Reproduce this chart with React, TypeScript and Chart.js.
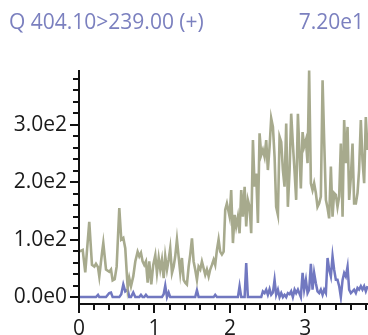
import React, { useEffect, useRef } from "react";
import { Chart, registerables } from "chart.js";

Chart.register(...registerables);

const titleLeft = "Q 404.10>239.00 (+)";
const titleRight = "7.20e1";

const times = [
  0.000, 0.049, 0.083, 0.136, 0.172, 0.203, 0.225, 0.252, 0.269, 0.305, 0.322, 0.358, 0.401, 0.424, 0.446, 0.473, 0.499, 0.534, 0.560, 0.587, 0.613, 0.645, 0.666, 0.689, 0.719, 0.746, 0.777, 0.799, 0.821, 0.843, 0.865, 0.887, 0.910, 0.931, 0.958, 0.984, 1.011,
  1.033, 1.056, 1.077, 1.099, 1.122, 1.143, 1.166, 1.188, 1.209, 1.232, 1.254, 1.275, 1.298, 1.320, 1.342, 1.364, 1.387, 1.408, 1.430, 1.453, 1.474, 1.497, 1.519, 1.540, 1.563, 1.585, 1.607, 1.629, 1.652, 1.673, 1.695, 1.718, 1.739, 1.762, 1.784, 1.805, 1.828, 1.850, 1.871, 1.894, 1.917, 1.938, 1.960,
  1.996, 2.017, 2.040, 2.062, 2.083, 2.106, 2.128, 2.150, 2.172, 2.195, 2.216, 2.238, 2.261, 2.282, 2.305, 2.327, 2.348, 2.371, 2.393, 2.415, 2.437, 2.459, 2.481, 2.503, 2.526, 2.547, 2.570, 2.592, 2.613, 2.636, 2.658, 2.680, 2.702, 2.724, 2.746, 2.768, 2.791, 2.812, 2.834, 2.857, 2.878, 2.901,
  2.940, 2.963, 2.984, 3.007, 3.029, 3.050, 3.073, 3.095, 3.116, 3.139, 3.161, 3.183, 3.205, 3.228, 3.249, 3.272, 3.294, 3.315, 3.338, 3.360, 3.381, 3.404, 3.426, 3.448, 3.470, 3.493, 3.514, 3.536, 3.559, 3.580, 3.603, 3.625, 3.646, 3.669, 3.691, 3.712, 3.735, 3.757, 3.779, 3.801, 3.824,
];

const oliveSeries = [
  79, 82, 43, 131, 56, 53, 58, 52, 36, 77, 94, 48, 44, 48, 29, 31, 53, 155, 100, 103, 85, 16, 33, 19, 36, 62, 79, 71, 77, 62, 56, 62, 25, 62, 22, 56, 73,
  42, 68, 48, 65, 33, 71, 48, 65, 85, 42, 53, 71, 100, 71, 42, 68, 30, 25, 22, 53, 74, 102, 62, 48, 30, 53, 48, 62, 50, 39, 48, 36, 48, 56, 65, 56, 82, 100, 79, 74, 79, 152, 163,
  140, 186, 94, 143, 123, 140, 111, 186, 140, 192, 123, 169, 157, 111, 273, 192, 215, 129, 285, 247, 256, 244, 273, 221, 262, 311, 296, 244, 157, 143, 279, 270, 221, 192, 302, 157, 221, 319, 267, 218, 169, 319,
  189, 287, 262, 273, 233, 394, 198, 186, 198, 181, 157, 163, 175, 377, 273, 169, 155, 137, 227, 140, 181, 178, 157, 175, 267, 140, 308, 233, 296, 169, 209, 267, 163, 163, 181, 221, 308, 238, 198, 313, 256,
];

const blueSeries = [
  0, 0, 0, 0, 0, 0, 0, 4, 0, 0, 0, 0, 7, 8, 0, 0, 0, 0, 5, 22, 10, 13, 0, 0, 8, 0, 0, 0, 4, 0, 0, 4, 0, 0, 0, 0, 0,
  0, 0, 0, 0, 5, 20, 0, 8, 0, 0, 0, 0, 0, 0, 0, 0, 0, 0, 0, 0, 0, 0, 0, 0, 12, 0, 0, 0, 0, 0, 0, 0, 0, 0, 0, 4, 0, 0, 0, 0, 0, 0, 0, 0, 0, 0, 0,
  0, 0, 19, 0, 0, 0, 59, 0, 0, 0, 0, 0, 0, 0, 0, 0, 10, 7, 13, 4, 14, 4, 8, 30, 4, 13, 0, 7, 0, 4, 0, 7, 5, 10, 0, 13, 7, 13, 0, 42, 13, 30,
  7, 13, 58, 13, 42, 24, 10, 7, 13, 4, 13, 7, 68, 48, 36, 71, 48, 30, 30, 19, 0, 30, 42, 36, 53, 13, 7, 10, 13, 7, 16, 13, 19, 13, 19, 10, 19, 4, 21, 13, 13,
];

const xMajorTicks = [0, 1, 2, 3];
const xMinorTicks = [0.2, 0.4, 0.6, 0.8, 1.2, 1.4, 1.6, 1.8, 2.2, 2.4, 2.6, 2.8, 3.2, 3.4, 3.6, 3.8];
const yMajorTicks = [0, 100, 200, 300];
const yMajorLabels = ["0.0e0", "1.0e2", "2.0e2", "3.0e2"];
const yMinorTicks = [20, 40, 60, 80, 120, 140, 160, 180, 220, 240, 260, 280, 320, 340, 360, 380];

const FONT = "'Open Sans', 'Noto Sans', sans-serif";

const axesPlugin = {
  id: "customAxes",
  afterDraw(chart: any) {
    const { ctx, chartArea: ca, scales } = chart;
    const x = scales.x;
    const y = scales.y;
    ctx.save();
    ctx.strokeStyle = "#111";
    ctx.lineWidth = 2;
    ctx.lineCap = "butt";
    const left = Math.round(ca.left);
    const bottom = Math.round(ca.bottom);
    ctx.beginPath();
    ctx.moveTo(left, ca.top);
    ctx.lineTo(left, bottom + 1);
    ctx.moveTo(left - 1, bottom);
    ctx.lineTo(ca.right, bottom);
    ctx.stroke();
    ctx.beginPath();
    yMajorTicks.forEach((v) => {
      const p = Math.round(y.getPixelForValue(v));
      ctx.moveTo(left - 9, p);
      ctx.lineTo(left, p);
    });
    yMinorTicks.forEach((v) => {
      const p = Math.round(y.getPixelForValue(v));
      ctx.moveTo(left - 6, p);
      ctx.lineTo(left, p);
    });
    xMajorTicks.forEach((v) => {
      const p = Math.round(x.getPixelForValue(v));
      ctx.moveTo(p, bottom);
      ctx.lineTo(p, bottom + 9);
    });
    xMinorTicks.forEach((v) => {
      const p = Math.round(x.getPixelForValue(v));
      ctx.moveTo(p, bottom);
      ctx.lineTo(p, bottom + 6);
    });
    ctx.stroke();
    ctx.restore();
  },
};

export default function App() {
  const canvasRef = useRef<HTMLCanvasElement | null>(null);

  useEffect(() => {
    if (!canvasRef.current) return;
    const chart = new Chart(canvasRef.current, {
      type: "line",
      data: {
        labels: times,
        datasets: [
          {
            label: "olive",
            data: times.map((t, i) => ({ x: t, y: oliveSeries[i] })),
            borderColor: "#a7aa8d",
            borderWidth: 2.6,
            pointRadius: 0,
            tension: 0,
            fill: false,
          },
          {
            label: "blue",
            data: times.map((t, i) => ({ x: t, y: blueSeries[i] })),
            borderColor: "#7178c0",
            borderWidth: 2.5,
            pointRadius: 0,
            tension: 0,
            fill: false,
          },
        ],
      },
      options: {
        animation: false,
        responsive: false,
        devicePixelRatio: 1,
        layout: { padding: { top: 70, right: 0, left: 0, bottom: 0 } },
        plugins: {
          legend: { display: false },
          tooltip: { enabled: false },
          title: { display: false },
        },
        scales: {
          x: {
            type: "linear",
            min: 0,
            max: 3.83,
            afterBuildTicks: (s: any) => {
              s.ticks = xMajorTicks.map((v) => ({ value: v }));
            },
            afterFit: (s: any) => {
              s.height = 31;
            },
            grid: { display: false, drawTicks: false },
            border: { display: false },
            ticks: {
              autoSkip: false,
              maxRotation: 0,
              padding: 12,
              color: "#1a1a1a",
              font: { family: FONT, size: 21 },
              callback: (v: any) => String(v),
            },
          },
          y: {
            type: "linear",
            min: -12,
            max: 395,
            afterBuildTicks: (s: any) => {
              s.ticks = yMajorTicks.map((v) => ({ value: v }));
            },
            afterFit: (s: any) => {
              s.width = 79;
            },
            grid: { display: false, drawTicks: false },
            border: { display: false },
            ticks: {
              autoSkip: false,
              padding: 12,
              color: "#1a1a1a",
              font: { family: FONT, size: 21 },
              callback: (v: any) => {
                const i = yMajorTicks.indexOf(v);
                return i >= 0 ? yMajorLabels[i] : "";
              },
            },
          },
        },
      },
      plugins: [axesPlugin],
    });
    return () => chart.destroy();
  }, []);

  return (
    <div
      style={{
        position: "fixed",
        left: 0,
        top: 0,
        width: 368,
        height: 335,
        background: "#fff",
        overflow: "hidden",
      }}
    >
      <canvas
        ref={canvasRef}
        width={368}
        height={335}
        style={{ position: "absolute", left: 0, top: 0, width: 368, height: 335 }}
      />
      <div
        style={{
          position: "absolute",
          left: 9,
          top: 7,
          fontFamily: FONT,
          fontSize: 21,
          color: "#7b80bf",
          whiteSpace: "nowrap",
        }}
      >
        {titleLeft}
      </div>
      <div
        style={{
          position: "absolute",
          right: 4,
          top: 7,
          fontFamily: FONT,
          fontSize: 21,
          color: "#7b80bf",
          whiteSpace: "nowrap",
        }}
      >
        {titleRight}
      </div>
    </div>
  );
}
